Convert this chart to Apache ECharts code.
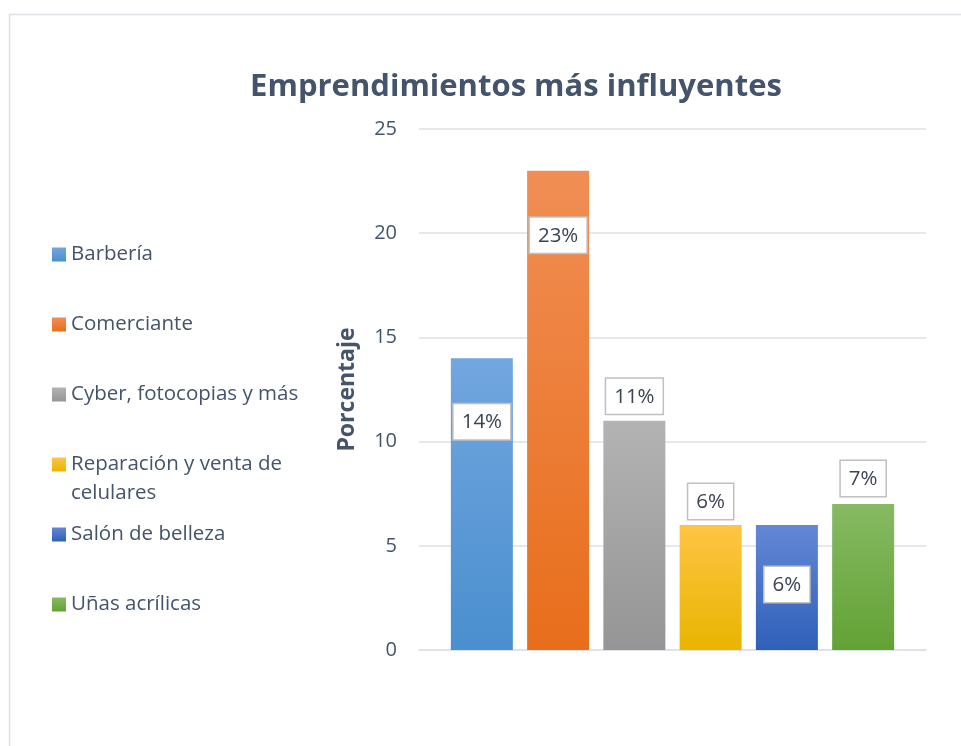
<!DOCTYPE html>
<html>
<head>
<meta charset="utf-8">
<script src="https://cdn.jsdelivr.net/npm/echarts@6/dist/echarts.min.js"></script>
<style>
  html, body { margin: 0; padding: 0; background: #fff; }
  #chart { width: 961px; height: 746px; }
</style>
</head>
<body>
<div id="chart"></div>
<script>
// datos del grafico
var categorias = ['Barbería', 'Comerciante', 'Cyber, fotocopias y más', 'Reparación y venta de celulares', 'Salón de belleza', 'Uñas acrílicas'];
var porcentajes = [14, 23, 11, 6, 6, 7];
var yTicks = { min: 0, max: 25, interval: 5 };

// colores (arriba, abajo) de cada barra
var colores = [
  ['#72a6df', '#4a8fcf'],
  ['#f18e55', '#e86e1b'],
  ['#b3b3b3', '#959595'],
  ['#ffc444', '#e8b500'],
  ['#6387d6', '#2f60b9'],
  ['#87ba63', '#62a235']
];
// donde va la etiqueta de cada barra
var etiquetaPos = [
  { position: 'insideTop', distance: 46 },
  { position: 'insideTop', distance: 47 },
  { position: 'top', distance: 7 },
  { position: 'top', distance: 6 },
  { position: 'insideTop', distance: 42 },
  { position: 'top', distance: 8 }
];

var fuente = '"Open Sans", "Liberation Sans", sans-serif';
var gris = '#44546a';

var myChart = echarts.init(document.getElementById('chart'));

var mySeries = categorias.map(function (name, i) {
  return {
    name: name,
    type: 'bar',
    barWidth: 62,
    barGap: '23%',
    data: [porcentajes[i]],
    itemStyle: {
      color: new echarts.graphic.LinearGradient(0, 0, 0, 1, [
        { offset: 0, color: colores[i][0] },
        { offset: 1, color: colores[i][1] }
      ])
    },
    label: {
      show: true,
      position: etiquetaPos[i].position,
      distance: etiquetaPos[i].distance,
      formatter: '{c}%',
      fontFamily: fuente,
      fontSize: 20.5,
      lineHeight: 22,
      color: '#3b4454',
      backgroundColor: '#fff',
      borderColor: '#c0c0c0',
      borderWidth: 1.5,
      padding: [7, 8, 6, 8]
    }
  };
});

var option = {
  backgroundColor: '#fff',
  animation: false,
  title: {
    text: 'Emprendimientos más influyentes',
    left: 511,
    top: 67,
    textAlign: 'center',
    textStyle: {
      fontFamily: fuente,
      fontSize: 31,
      fontWeight: 'bold',
      color: gris
    }
  },
  graphic: [{
    type: 'rect',
    silent: true,
    shape: { x: 9.5, y: 14.5, width: 1000, height: 1000 },
    style: { fill: 'none', stroke: '#dde1e7', lineWidth: 1.5 }
  }],
  legend: {
    orient: 'vertical',
    left: 52,
    top: 211,
    padding: 0,
    itemWidth: 14,
    itemHeight: 14,
    itemGap: -17,
    icon: 'rect',
    data: categorias,
    formatter: function (name) {
      // truco: linea vacia arriba para que el cuadro quede en la primera linea
      if (name === 'Reparación y venta de celulares') {
        return '\nReparación y venta de\ncelulares';
      }
      return '\n' + name + '\n';
    },
    textStyle: {
      fontFamily: fuente,
      fontSize: 20.5,
      lineHeight: 29,
      color: gris
    }
  },
  grid: {
    left: 419,
    right: 35,
    top: 129,
    bottom: 96
  },
  xAxis: {
    type: 'category',
    data: [''],
    axisTick: { show: false },
    axisLabel: { show: false },
    axisLine: { lineStyle: { color: '#dde1e7', width: 1.5 } }
  },
  yAxis: {
    type: 'value',
    min: yTicks.min,
    max: yTicks.max,
    interval: yTicks.interval,
    name: 'Porcentaje',
    nameLocation: 'middle',
    nameGap: 60,
    nameTextStyle: {
      fontFamily: fuente,
      fontSize: 23,
      fontWeight: 'bold',
      color: gris
    },
    axisLine: { show: false },
    axisTick: { show: false },
    axisLabel: {
      margin: 22,
      fontFamily: fuente,
      fontSize: 20,
      color: gris
    },
    splitLine: { lineStyle: { color: '#dde1e7', width: 1.5 } }
  },
  series: mySeries
};

myChart.setOption(option);

window.onresize = function () {
  myChart.resize();
};
</script>
</body>
</html>
